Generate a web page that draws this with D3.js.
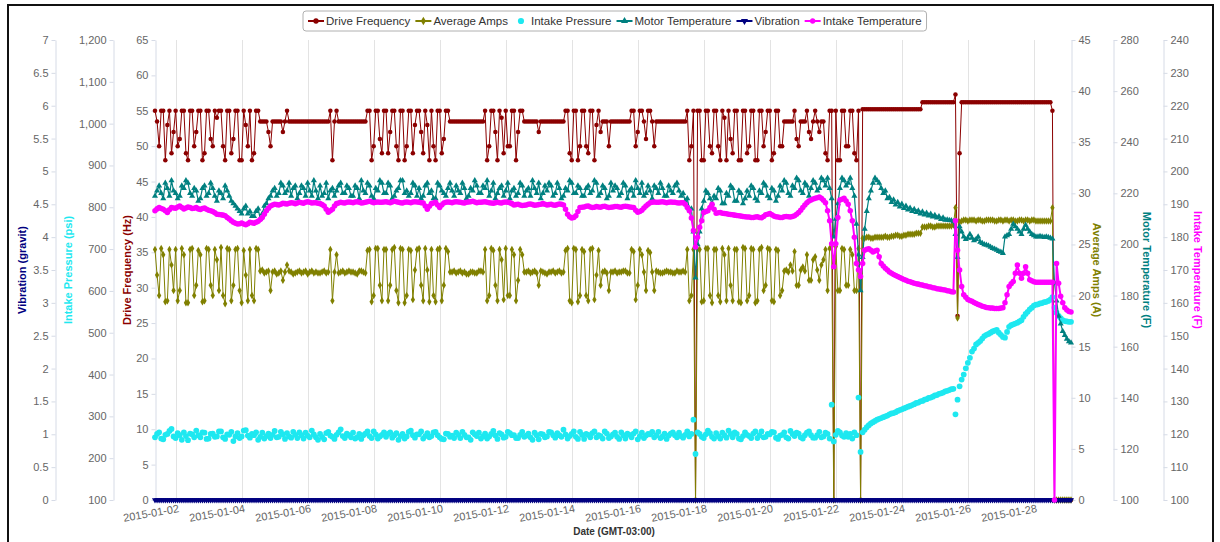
<!DOCTYPE html>
<html>
<head>
<meta charset="utf-8">
<script src="https://cdn.jsdelivr.net/npm/d3@7"></script>
<style>
body { margin: 0; background: #fff; }
text { font-family: "Liberation Sans", Arial, sans-serif; }
</style>
</head>
<body>
<script>
// readings every 1.5 hours, starting 2015-01-01 09:00 (GMT-03:00)
var startTime = Date.UTC(2015, 0, 1, 9);
var stepHours = 1.5;

var dateTicks = ["2015-01-02", "2015-01-04", "2015-01-06", "2015-01-08", "2015-01-10", "2015-01-12", "2015-01-14",
    "2015-01-16", "2015-01-18", "2015-01-20", "2015-01-22", "2015-01-24", "2015-01-26", "2015-01-28"];

var vibTicks = [0, 0.5, 1, 1.5, 2, 2.5, 3, 3.5, 4, 4.5, 5, 5.5, 6, 6.5, 7];
var pressureTicks = [100, 200, 300, 400, 500, 600, 700, 800, 900, 1000, 1100, 1200];
var freqTicks = [0, 5, 10, 15, 20, 25, 30, 35, 40, 45, 50, 55, 60, 65];
var ampsTicks = [0, 5, 10, 15, 20, 25, 30, 35, 40, 45];
var motorTicks = [100, 120, 140, 160, 180, 200, 220, 240, 260, 280];
var intakeTempTicks = [100, 110, 120, 130, 140, 150, 160, 170, 180, 190, 200, 210, 220, 230, 240];

// one row = one day of readings
var driveFreq = [
    55,53.5,50,55,55,48,53,55,49,52,55,50,51,55,55,49,
    48,55,55,50,52,55,55,48,49,55,55,51,50,55,54,55,
    55,50,48,55,55,49,51,55,55,48,48,55,53,50,55,48,
    49,55,55,53.5,53.5,53.5,53.5,52,50,53.5,53.5,53.5,53.5,53.5,52,53.5,
    55,53.5,53.5,53.5,53.5,53.5,53.5,53.5,53.5,53.5,53.5,53.5,53.5,53.5,53.5,53.5,
    53.5,53.5,53.5,53.5,53.5,55,48,53.5,55,53.5,53.5,53.5,53.5,53.5,53.5,53.5,
    53.5,53.5,53.5,53.5,53.5,53.5,53.5,55,55,48,50,55,55,51,49,55,
    55,49,52,55,55,50,48,55,55,48,50,55,55,49,53,55,
    55,52,49,55,53,48,55,50,48,55,55,49,51,55,55,53.5,
    53.5,53.5,53.5,53.5,53.5,53.5,53.5,53.5,53.5,53.5,53.5,53.5,53.5,53.5,53.5,53.5,
    55,48,50,55,55,52,48,55,54,49,55,50,50,55,55,48,
    52,55,55,53.5,53.5,53.5,53.5,53.5,53.5,53.5,52,53.5,53.5,53.5,53.5,53.5,
    53.5,53.5,53.5,53.5,53.5,53.5,53.5,55,55,49,48,55,55,48,50,55,
    55,50,49,55,55,48,53,55,52,53.5,53.5,53.5,50,53.5,53.5,53.5,
    53.5,53.5,53.5,53.5,53.5,53.5,53.5,55,55,50,52,55,55,53.5,51,55,
    55,53.5,50,53.5,53.5,53.5,53.5,53.5,53.5,53.5,53.5,53.5,53.5,53.5,53.5,53.5,
    53.5,53.5,55,48,50,55,0,55,55,48,48,55,55,50,49,55,
    55,50,48,55,54,48,55,51,49,55,55,48,48,55,55,49,
    50,55,55,48,48,55,55,50,52,55,55,48,49,55,55,50,
    50,53.5,53.5,53.5,53.5,53.5,55,51,50,53.5,53.5,53.5,55,52,51,53.5,
    55,53.5,52,53.5,53.5,49,48,55,55,0,55,48,48,55,55,50,
    50,55,55,49,48,55,0,55.2,55.2,55.2,55.2,55.2,55.2,55.2,55.2,55.2,
    55.2,55.2,55.2,55.2,55.2,55.2,55.2,55.2,55.2,55.2,55.2,55.2,55.2,55.2,55.2,55.2,
    55.2,55.2,55.2,55.2,56.2,56.2,56.2,56.2,56.2,56.2,56.2,56.2,56.2,56.2,56.2,56.2,
    56.2,56.2,56.2,56.2,57.3,26,49,56.2,56.2,56.2,56.2,56.2,56.2,56.2,56.2,56.2,
    56.2,56.2,56.2,56.2,56.2,56.2,56.2,56.2,56.2,56.2,56.2,56.2,56.2,56.2,56.2,56.2,
    56.2,56.2,56.2,56.2,56.2,56.2,56.2,56.2,56.2,56.2,56.2,56.2,56.2,56.2,56.2,56.2,
    56.2,56.2,56.2,55,0,0,0,0,0,0,0,0,0
];

var avgAmps = [
    24.5,22,20,24.6,24,19.4,19.5,24.5,23,20.5,24.5,19.5,20.5,24.6,24,19.3,
    19.3,24.5,24.6,20,21,24.4,24,19.4,19.5,24.6,24.5,21,20,24.5,23.5,20.5,
    24.7,20,19.2,24.6,24.5,19.5,21,24.5,24.6,20.5,19.3,24.4,22,19.5,24.5,20,
    19.5,24.6,24.5,22.4,22.5,22.2,22.3,22.4,20.5,22.3,22.4,22.1,22.2,22.4,21.5,22.3,
    23,22.4,22.3,22.1,22.2,22.3,22.4,22.2,22.3,22.4,22.1,22.3,22.4,22.2,22.3,22.2,
    22.2,22.3,22.4,22.2,22.3,24.5,19.5,22.3,24,22.2,22.3,22.4,22.2,22.3,22.4,22.3,
    22.3,22.2,22.1,22.4,22.4,22.3,22.2,24.4,24.5,19.4,20,24.6,24.6,21,19.5,24.5,
    24.5,19.5,21,24.5,24.7,20.5,19.3,24.6,24.5,19.3,20,24.5,24.4,19.6,22.5,24.5,
    24.6,21,19.5,24.6,22.5,19.4,24.5,20,19.4,24.5,24.6,19.5,21,24.6,24.3,22.3,
    22.3,22.4,22.2,22.3,22.4,22.2,22.3,22.1,22.1,22.3,22.3,22.2,22.2,22.4,22.4,22.3,
    24.5,19.5,20,24.6,24.4,21,19.5,24.5,23.5,19.6,24.6,20,20,24.5,24,19.5,
    21.5,24.5,24,22.3,22.3,22.4,22.2,22.3,22.4,22.2,21,22.4,22.3,22.2,22.1,22.3,
    22.3,22.4,22.2,22.3,22.4,22.2,22.3,24.4,24.6,19.5,19.3,24.6,24.5,19.4,20,24.5,
    24.3,20,19.5,24.5,24.6,19.6,22,24.4,21,22.3,22.4,22.2,20.5,22.3,22.3,22.4,
    22.2,22.3,22.3,22.4,22.4,22.2,22.2,24.5,24.3,19.6,21,24.5,24,22.3,20.5,24.4,
    24.2,22.3,20.5,22.4,22.3,22.2,22.2,22.3,22.4,22.3,22.3,22.2,22.2,22.4,22.3,22.3,
    22.4,22.3,24.5,19.5,20,24.5,0,24.5,24.5,19.4,19.5,24.6,24.6,20,19.3,24.5,
    24.5,20,19.4,24.6,24,19.5,24.6,21,19.5,24.5,24.5,19.4,19.3,24.7,24.6,19.5,
    20,24.6,24.5,19.3,19.5,24.5,24.7,20.5,21,24.6,24.5,19.5,19.4,24.5,24.4,20,
    20.5,22.4,22.5,22.3,23,22.4,24.3,21,21,22.5,22.8,22.4,24,21.5,21.5,23.5,
    23.8,22.5,21.5,23,23.5,24.5,20.5,24.6,24.8,0,24.8,20.5,20.5,24.6,24.5,21,
    21,24.5,24,20.5,20.5,24.6,0,25.6,25.6,25.7,25.7,25.6,25.6,25.7,25.7,25.7,
    25.7,25.7,25.8,25.7,25.7,25.8,25.8,25.9,25.9,25.8,25.8,25.9,25.9,26,26,26,
    26,26.1,26.1,26.1,26.7,26.7,26.7,26.8,26.8,26.7,26.7,26.8,26.8,26.8,26.8,26.8,
    26.8,26.8,26.8,26.9,28.6,17.8,27.2,27.3,27.4,27.4,27.3,27.4,27.4,27.4,27.3,27.4,
    27.4,27.3,27.3,27.4,27.4,27.4,27.4,27.3,27.3,27.4,27.4,27.3,27.4,27.4,27.3,27.4,
    27.4,27.3,27.3,27.4,27.4,27.3,27.4,27.4,27.3,27.4,27.4,27.3,27.3,27.3,27.3,27.3,
    27.3,27.3,27.3,28.6,0,0,0,0,0,0,0,0,0
];

var intakePressure = [
    250,258,262,247,245,256,258,265,270,252,248,260,255,244,262,253,
    243,259,257,250,266,255,250,262,261,246,247,258,259,251,252,264,
    264,250,246,257,256,263,241,252,260,248,252,266,267,254,249,258,
    255,262,244,251,261,247,253,259,248,256,265,250,251,263,257,246,
    260,252,249,263,256,248,262,255,247,261,254,250,266,257,250,244,
    258,251,245,260,263,254,251,246,256,262,269,253,248,259,255,250,
    261,247,250,258,246,255,259,264,253,248,264,257,247,252,256,262,
    251,258,262,249,255,260,244,253,258,247,252,263,266,255,249,257,
    257,264,247,253,260,250,253,262,263,255,250,246,245,259,258,251,
    254,248,261,256,248,263,256,250,250,244,262,257,253,261,247,252,
    259,247,252,258,265,254,246,260,257,249,251,263,260,255,255,248,
    248,256,263,251,254,259,250,244,261,255,245,258,257,250,252,263,
    262,255,249,260,255,251,268,257,247,253,258,264,251,246,263,256,
    246,258,256,250,260,264,250,255,253,247,264,259,248,252,257,261,
    251,246,262,255,247,259,256,250,259,264,245,253,261,248,254,258,
    257,263,250,255,263,248,252,259,246,254,259,262,255,250,261,253,
    249,256,264,252,258,292,210,262,258,251,248,257,266,260,251,247,
    260,253,247,261,255,249,266,258,250,262,258,247,245,253,262,256,
    253,248,259,264,248,255,264,250,251,258,257,263,262,249,246,254,
    256,262,250,247,265,258,253,261,259,250,247,255,261,264,255,249,
    249,255,263,250,252,261,258,247,328,240,256,265,262,254,251,260,
    251,258,247,262,255,345,215,262,268,274,279,283,286,289,292,294,
    296,298,300,302,305,307,308,310,313,315,317,319,321,323,325,327,
    329,332,333,336,337,340,341,344,345,347,350,351,354,355,357,360,
    361,363,365,366,305,340,372,388,400,415,428,440,455,462,472,476,
    480,486,492,495,497,500,503,505,507,500,495,490,488,502,514,518,
    520,522,524,527,530,538,545,550,556,560,565,567,568,570,571,573,
    574,576,579,585,560,548,540,535,530,528,527,526,526
];

var motorTemp = [
    219,221,223,220,218,224,222,219,225,221,220,218,219,223,222,225,
    224,220,219,222,221,217,218,222,223,219,220,224,222,219,217,221,
    220,218,223,221,219,217,216,215,214,213,212,214,215,212,213,211,
    211,213,214,210,212,215,216,218,219,221,222,219,220,224,223,220,
    221,224,219,222,223,218,220,223,222,219,224,221,219,225,221,218,
    223,219,220,224,218,221,222,219,221,223,224,220,220,223,222,219,
    219,223,222,218,225,221,220,224,223,219,218,222,221,225,224,220,
    220,224,223,218,219,221,222,225,225,220,221,219,220,224,223,219,
    222,218,219,223,224,220,221,218,218,224,223,221,220,219,222,224,
    221,219,223,221,220,224,222,218,219,222,221,225,223,220,220,223,
    222,225,219,221,224,218,220,222,223,219,221,224,218,221,222,219,
    220,224,223,219,221,222,219,225,222,220,224,218,220,223,221,224,
    223,219,220,224,222,218,219,222,221,225,224,220,220,223,222,219,
    219,222,223,220,221,225,224,219,220,223,222,218,219,224,221,223,
    222,219,220,224,223,218,221,222,219,225,222,220,224,219,220,223,
    221,218,223,222,220,224,222,219,219,223,221,220,223,224,221,219,
    220,217,218,214,214,205,187,200,205,214,217,221,220,218,216,219,
    218,222,221,216,216,220,219,223,222,217,217,221,220,216,218,221,
    219,223,222,218,217,221,220,224,223,219,218,222,221,217,219,223,
    221,225,224,220,219,223,222,226,225,221,220,224,223,219,222,225,
    224,221,222,226,225,223,226,222,218,203,210,216,222,226,225,223,
    224,226,222,219,208,196,182,195,206,213,218,221,224,226,225,224,
    222,220,221,218,218.5,216.5,217.5,215.5,216.5,214.8,215.8,214.2,215,213.6,214.3,213,
    213.8,212.6,213.2,212,212.8,211.6,212.3,211.2,211.9,210.8,211.4,210.4,210.9,209.9,210.4,209.6,
    209.7,209.5,209.4,209,204,195,207,205,203,202,202.5,204,202.5,201.5,202,203,
    201,200.5,200,199.8,199.5,199,198.5,198.2,197.8,197.3,197,196.6,203,203.5,204,206,
    208,207,206,205,204,206,207.6,206,205,204,203.5,203,203,203.2,203,202.8,
    203,202.8,202.5,202.2,185,178,172,169,166,164.5,163,162,161.5
];

var vibration = [
    0,0,0,0,0,0,0,0,0,0,0,0,0,0,0,0,0,0,0,0,0,0,0,0,0,0,0,0,0,0,0,0,
    0,0,0,0,0,0,0,0,0,0,0,0,0,0,0,0,0,0,0,0,0,0,0,0,0,0,0,0,0,0,0,0,
    0,0,0,0,0,0,0,0,0,0,0,0,0,0,0,0,0,0,0,0,0,0,0,0,0,0,0,0,0,0,0,0,
    0,0,0,0,0,0,0,0,0,0,0,0,0,0,0,0,0,0,0,0,0,0,0,0,0,0,0,0,0,0,0,0,
    0,0,0,0,0,0,0,0,0,0,0,0,0,0,0,0,0,0,0,0,0,0,0,0,0,0,0,0,0,0,0,0,
    0,0,0,0,0,0,0,0,0,0,0,0,0,0,0,0,0,0,0,0,0,0,0,0,0,0,0,0,0,0,0,0,
    0,0,0,0,0,0,0,0,0,0,0,0,0,0,0,0,0,0,0,0,0,0,0,0,0,0,0,0,0,0,0,0,
    0,0,0,0,0,0,0,0,0,0,0,0,0,0,0,0,0,0,0,0,0,0,0,0,0,0,0,0,0,0,0,0,
    0,0,0,0,0,0,0,0,0,0,0,0,0,0,0,0,0,0,0,0,0,0,0,0,0,0,0,0,0,0,0,0,
    0,0,0,0,0,0,0,0,0,0,0,0,0,0,0,0,0,0,0,0,0,0,0,0,0,0,0,0,0,0,0,0,
    0,0,0,0,0,0,0,0,0,0,0,0,0,0,0,0,0,0,0,0,0,0,0,0,0,0,0,0,0,0,0,0,
    0,0,0,0,0,0,0,0,0,0,0,0,0,0,0,0,0,0,0,0,0,0,0,0,0,0,0,0,0,0,0,0,
    0,0,0,0,0,0,0,0,0,0,0,0,0,0,0,0,0,0,0,0,0,0,0,0,0,0,0,0,0,0,0,0,
    0,0,0,0,0,0,0,0,0,0,0,0,0,0,0,0,0,0,0,0,0,0,0,0,0,0,0,0,0
];

var intakeTemp = [
    188,188.6,189,188.7,188.5,188,187.5,188.3,189,188.9,188.8,189.2,189.5,189,188.6,188.9,
    189.2,189,188.7,188.8,189,188.6,188.4,188.7,188.9,188.5,188.2,188,187.8,187.4,187,186.9,
    186.8,186.7,186.5,186,185.5,185,184.5,184.2,184,184.1,184.3,184,183.8,184.1,184.5,184.4,
    184.2,184.5,184.8,185.4,186,187,188,188.8,189.5,189.8,190,189.9,189.8,190,190.3,190.2,
    190.1,190.3,190.5,190.4,190.2,190.4,190.6,190.5,190.3,190.6,190.8,190.6,190.4,190.5,190.5,190.3,
    190.2,189.9,189.5,188.5,187.6,188,188.5,189.5,190.2,190.4,190.6,190.5,190.4,190.6,190.7,190.6,
    190.5,190.7,190.8,190.6,190.4,190.5,190.6,190.8,190.9,190.7,190.5,190.6,190.7,190.6,190.6,190.7,
    190.8,190.6,190.5,190.7,190.9,190.8,190.6,190.5,190.4,190.6,190.7,190.6,190.5,190.7,190.8,190.7,
    190.6,190.5,190.4,189.5,188.5,189.4,190.2,190.4,190.6,189.8,189,189.8,190.4,190.6,190.7,190.6,
    190.5,190.7,190.8,190.7,190.6,190.5,190.4,190.6,190.7,190.8,190.9,190.7,190.5,190.6,190.6,190.7,
    190.8,190.6,190.5,190.4,190.3,190.5,190.6,190.5,190.4,190.6,190.7,190.6,190.5,190.2,189.8,189.9,
    190,189.8,189.6,189.7,189.8,190,190.1,189.9,189.7,189.8,189.9,190,190.2,190,189.8,189.9,
    190,189.8,189.7,189.9,190.1,190,189.8,188.5,187,186.2,185.8,186,186.5,187.8,189,189.1,
    189.2,189.4,189.5,189.2,189,189.1,189.3,189.2,189.1,189.3,189.4,189.2,189,189.1,189.2,189.3,
    189.3,189.2,189.1,189.3,189.4,189.3,189.2,189.1,189,188.2,187.6,187.8,188.2,188.9,189.5,190,
    190.5,190.6,190.7,190.6,190.6,190.7,190.8,190.6,190.5,190.6,190.7,190.6,190.6,190.5,190.4,190.5,
    190.5,190,189,188,185.8,182,177,180,183,185,187.5,187.8,188,189,190,188.5,
    187.3,187.4,187.5,187.3,187.2,187.1,187,186.9,186.8,186.7,186.6,186.5,186.4,186.3,186.2,186.1,
    186.1,186,186,186.1,186.2,186,185.9,186.3,186.8,187,187.2,186.8,186.4,186.2,186.1,186,
    186,186.2,186.3,186.2,186.1,186.3,186.5,187,187.5,188.2,189,189.8,190.5,191,191.3,191.6,
    191.8,192,192.2,191.8,191.2,190.5,188,185,178,171,178,186,191.3,191.5,191.8,191,
    190,188,185,180,172,170,168,172,176,176.3,176.5,176,175.5,175.8,176,174,
    172,171.2,170.5,170,169.4,169,168.6,168.3,168,167.7,167.4,167.1,166.9,166.6,166.4,166.2,
    166,165.8,165.7,165.5,165.4,165.2,165.1,164.9,164.8,164.6,164.5,164.3,164.2,164.1,164,163.9,
    163.7,163.6,163.4,163.3,185,176,170,165,162.5,161.7,161,160.7,160.5,160.1,159.8,159.5,
    159.3,159,158.8,158.6,158.5,158.4,158.4,158.3,158.3,158.3,158.4,158.5,160,162.5,165,165.8,
    166.5,169,171.5,169,167.5,169,171,169,167,166.7,166.4,166.3,166.3,166.3,166.3,166.3,
    166.3,166.3,166.3,166.3,100,172,166,162,160,158.5,157.8,157.4,157.2
];

var svg = d3.select("body").append("svg")
    .attr("width", 1220)
    .attr("height", 542);

var plotTop = 40, plotBottom = 500, plotLeft = 155, plotRight = 1071;

var times = driveFreq.map(function(d, i) {
    return new Date(startTime + i * stepHours * 3600000);
});

var x = d3.scaleUtc()
    .domain([times[0], times[times.length - 1]])
    .range([plotLeft, plotRight]);

var yVib = d3.scaleLinear().domain([0, 7]).range([plotBottom, plotTop]);
var yPressure = d3.scaleLinear().domain([100, 1200]).range([plotBottom, plotTop]);
var yFreq = d3.scaleLinear().domain([0, 65]).range([plotBottom, plotTop]);
var yAmps = d3.scaleLinear().domain([0, 45]).range([plotBottom, plotTop]);
var yMotor = d3.scaleLinear().domain([100, 280]).range([plotBottom, plotTop]);
var yIntakeT = d3.scaleLinear().domain([100, 240]).range([plotBottom, plotTop]);

// outer frame
svg.append("rect")
    .attr("x", 8).attr("y", 5).attr("width", 1205).attr("height", 560)
    .attr("fill", "none").attr("stroke", "#111").attr("stroke-width", 2);

// vertical grid + date labels
var parseDay = d3.utcParse("%Y-%m-%d");
dateTicks.forEach(function(s) {
    var xx = Math.round(x(parseDay(s))) + 0.5;
    svg.append("line")
        .attr("x1", xx).attr("x2", xx).attr("y1", plotTop).attr("y2", plotBottom)
        .attr("stroke", "#e3e3e3").attr("stroke-width", 1);
    svg.append("text")
        .attr("x", xx + 3).attr("y", 512)
        .attr("text-anchor", "end")
        .attr("transform", "rotate(-10," + (xx + 3) + ",512)")
        .attr("fill", "#666").attr("font-size", 11)
        .text(s);
});

svg.append("text")
    .attr("x", 614).attr("y", 535)
    .attr("text-anchor", "middle")
    .attr("font-size", 10).attr("font-weight", "bold").attr("fill", "#333")
    .text("Date (GMT-03:00)");

// y axes
function drawAxis(scale, ticks, fmt, side, xPos, title, color, titleX) {
    var axis = (side === "left" ? d3.axisLeft(scale) : d3.axisRight(scale))
        .tickValues(ticks)
        .tickFormat(fmt)
        .tickSize(4)
        .tickSizeOuter(0)
        .tickPadding(3);
    var g = svg.append("g")
        .attr("transform", "translate(" + xPos + ",0)")
        .call(axis);
    g.select(".domain").attr("stroke", "#d6dbe6");
    g.selectAll(".tick line").attr("stroke", "#d6dbe6");
    g.selectAll(".tick text")
        .attr("fill", "#666")
        .attr("font-size", 11)
        .attr("font-family", "Liberation Sans, Arial, sans-serif");
    svg.append("text")
        .attr("transform", "translate(" + titleX + ",270) rotate(" + (side === "left" ? -90 : 90) + ")")
        .attr("text-anchor", "middle")
        .attr("font-size", 11).attr("font-weight", "bold")
        .attr("fill", color)
        .text(title);
}

drawAxis(yVib, vibTicks, d3.format(""), "left", 55.5, "Vibration (gravit)", "#000080", 26);
drawAxis(yPressure, pressureTicks, d3.format(","), "left", 113.5, "Intake Pressure (psi)", "#1ee8f0", 72);
drawAxis(yFreq, freqTicks, d3.format(""), "left", 155.5, "Drive Frequency (Hz)", "#8b0000", 131);
drawAxis(yAmps, ampsTicks, d3.format(""), "right", 1071.5, "Average Amps (A)", "#808000", 1093);
drawAxis(yMotor, motorTicks, d3.format(""), "right", 1113.5, "Motor Temperature (F)", "#008080", 1143);
drawAxis(yIntakeT, intakeTempTicks, d3.format(""), "right", 1163.5, "Intake Temperature (F)", "#ff00ff", 1194);

// series
var series = [
    { name: "Drive Frequency", values: driveFreq, y: yFreq, color: "#8b0000", symbol: d3.symbolCircle, size: 16, line: 1 },
    { name: "Average Amps", values: avgAmps, y: yAmps, color: "#808000", symbol: d3.symbolDiamond, size: 16, line: 1 },
    { name: "Intake Pressure", values: intakePressure, y: yPressure, color: "#1ee8f0", symbol: d3.symbolCircle, size: 26, line: 0 },
    { name: "Motor Temperature", values: motorTemp, y: yMotor, color: "#008080", symbol: d3.symbolTriangle, size: 16, line: 1.2 },
    { name: "Vibration", values: vibration, y: yVib, color: "#000080", symbol: d3.symbolTriangle, size: 16, line: 3, flip: true },
    { name: "Intake Temperature", values: intakeTemp, y: yIntakeT, color: "#ff00ff", symbol: d3.symbolCircle, size: 24, line: 2 }
];

series.forEach(function(s) {
    var g = svg.append("g");
    if (s.line > 0) {
        var line = d3.line()
            .x(function(d, i) { return x(times[i]); })
            .y(function(d) { return s.y(d); });
        g.append("path")
            .datum(s.values)
            .attr("d", line)
            .attr("fill", "none")
            .attr("stroke", s.color)
            .attr("stroke-width", s.line)
            .attr("stroke-linejoin", "round");
    }
    g.selectAll("path.pt")
        .data(s.values)
        .enter()
        .append("path")
        .attr("class", "pt")
        .attr("d", d3.symbol().type(s.symbol).size(s.size))
        .attr("transform", function(d, i) {
            return "translate(" + x(times[i]) + "," + s.y(d) + ")" + (s.flip ? " rotate(180)" : "");
        })
        .attr("fill", s.color);
});

// legend
var legend = svg.append("g");
var box = legend.append("rect")
    .attr("y", 11).attr("height", 20).attr("rx", 3)
    .attr("fill", "#fff").attr("stroke", "#b0b0b0");
var cursor = 316;
series.forEach(function(s) {
    if (s.line > 0) {
        legend.append("line")
            .attr("x1", cursor - 8).attr("x2", cursor + 8).attr("y1", 21).attr("y2", 21)
            .attr("stroke", s.color).attr("stroke-width", 2);
    }
    legend.append("path")
        .attr("d", d3.symbol().type(s.symbol).size(s.line > 0 ? 22 : 30))
        .attr("transform", "translate(" + cursor + ",21)" + (s.flip ? " rotate(180)" : ""))
        .attr("fill", s.color);
    var t = legend.append("text")
        .attr("x", cursor + 10).attr("y", 25)
        .attr("font-size", 11.5).attr("fill", "#333")
        .text(s.name);
    cursor = cursor + 10 + t.node().getComputedTextLength() + 13;
});
box.attr("x", 303).attr("width", cursor - 303 - 8);
</script>
</body>
</html>
